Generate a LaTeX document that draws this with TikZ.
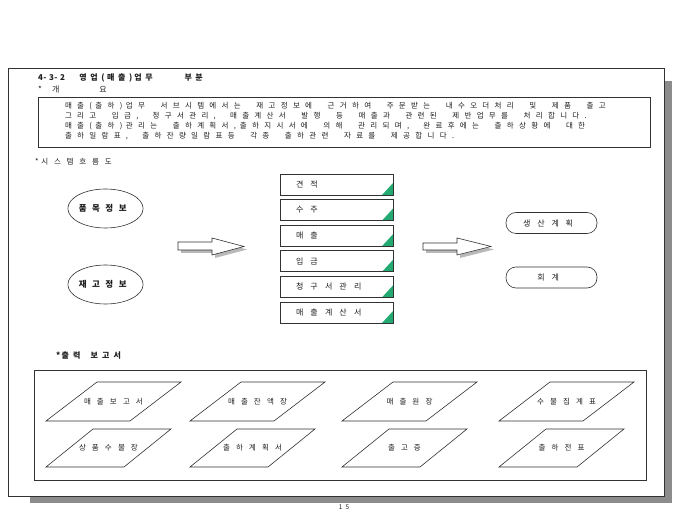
\documentclass[tikz,border=0pt]{standalone}
\usepackage{fontspec}
\setmainfont{Noto Sans CJK KR}
\usetikzlibrary{shapes.geometric}
\definecolor{shadowgray}{RGB}{140,140,140}
\definecolor{arrowshadow}{RGB}{185,185,185}
\definecolor{tri}{RGB}{35,170,115}
\definecolor{linec}{RGB}{50,50,50}
\definecolor{txt}{RGB}{30,30,30}
% monospaced-grid text: #1 pitch of a Hangul letter, #2 width of a word gap '|', #3 text
\makeatletter
\newlength\gtchw \newlength\gtspw
\newcommand\gridtext[3]{\gtchw=#1\relax\gtspw=#2\relax\@tfor\gt@c:=#3\do{\gt@put}}
\def\gt@bar{|}
\newcommand\gt@put{%
  \ifx\gt@c\gt@bar\hspace*{\gtspw}%
  \else
    \ifnum\expandafter`\gt@c>255
      \makebox[\gtchw][l]{\gt@c}%
    \else
      \makebox[0.5\gtchw][l]{\gt@c}%
    \fi
  \fi}
\makeatother
\tikzset{
  every node/.style={inner sep=0pt, outer sep=0pt, text=txt},
  heading/.style={anchor=west, font=\bfseries\fontsize{8}{10}\selectfont},
  plainhead/.style={anchor=west, font=\fontsize{7.5}{10}\selectfont},
  ovtext/.style={anchor=west, align=left, font=\fontsize{7.5}{10}\selectfont},
  stepbox/.style={draw=linec, line width=0.6pt, anchor=north west, minimum height=21pt,
     text width=81pt, inner xsep=16pt, align=left, font=\fontsize{8}{10}\selectfont,
     path picture={\fill[tri] (path picture bounding box.south east) -- ++(-11pt,0pt) -- ++(11pt,12pt) -- cycle;}},
  source/.style={ellipse, draw=linec, line width=0.6pt, minimum width=75pt, minimum height=39pt,
     font=\bfseries\fontsize{8.5}{10}\selectfont},
  target/.style={draw=linec, line width=0.6pt, rounded corners=10pt, minimum width=91pt, minimum height=21pt,
     font=\fontsize{8}{10}\selectfont},
  pglabel/.style={font=\fontsize{7.5}{10}\selectfont},
  pgline/.style={draw=linec, line width=0.6pt},
  blockarrow/.style={draw=linec, line width=0.6pt, fill=white},
  frame/.style={draw=linec, line width=0.6pt},
}
\newcommand\pgram[7]{%
  \draw[pgline] (#2,#3) -- ++(#6,0) -- ++(#5,#4-#3) -- ++(-#6,0) -- cycle;
  \node[pglabel] (#1) at ({#2+(#5+#6)/2+3},{(#3+#4)/2}) {\gridtext{13pt}{6pt}{#7}};
}
\newcommand\steplabel[1]{\gridtext{14.5pt}{6pt}{#1}}
\begin{document}
\begin{tikzpicture}[x=1pt,y=-1pt]
\useasboundingbox (0,0) rectangle (680,510);
% page frame with shadow
\fill[shadowgray] (664,81) rectangle (672,503);
\fill[shadowgray] (30,496) rectangle (672,503);
\fill[white] (8,68) rectangle (664,496);
\draw[frame] (8,68) rectangle (664,496);
% heading
\node[heading] (title) at (38,78) {\gridtext{11pt}{14pt}{4-3-2|영업(매출)업무||부분}};
\node[anchor=west, font=\fontsize{8}{10}\selectfont] (gaeyo) at (38,90) {\makebox[14pt][l]{*}개\hspace{40pt}요};
% overview box
\node[draw=linec, line width=0.8pt, anchor=north west, minimum width=612pt, minimum height=50pt] (ov) at (38,97) {};
\node[ovtext] (ovt) at (65,121) {%
\gridtext{12.2pt}{10.3pt}{매출(출하)업무|서브시템에서는|재고정보에|근거하여|주문받는|내수오더처리|및|제품|출고}\\
\gridtext{12.2pt}{10.3pt}{그리고|입금,|청구서관리,|매출계산서|발행|등|매출과|관련된|제반업무를|처리합니다.}\\
\gridtext{12.2pt}{10.3pt}{매출(출하)관리는|출하계획서,출하지시서에|의해|관리되며,|완료후에는|출하상황에|대한}\\
\gridtext{12.2pt}{10.3pt}{출하일람표,|출하잔량일람표등|각종|출하관련|자료를|제공합니다.}};
% system flow
\node[plainhead] (flow) at (35,162) {\gridtext{12.7pt}{6pt}{*시스템흐름도}};
\node[source] (pm) at (105.5,208.5) {\gridtext{13.3pt}{6pt}{품목정보}};
\node[source] (jg) at (105.5,284.5) {\gridtext{13.3pt}{6pt}{재고정보}};
% arrow 1
\fill[arrowshadow] (181,245) -- (215,245) -- (215,241) -- (247,249.5) -- (215,258) -- (215,253) -- (181,253) -- cycle;
\draw[blockarrow] (178,242) -- (212,242) -- (212,238) -- (244,246.5) -- (212,255) -- (212,250) -- (178,250) -- cycle;
% steps
\node[stepbox] (s1) at (280,174) {\steplabel{견적}};
\node[stepbox] (s2) at (280,199.6) {\steplabel{수주}};
\node[stepbox] (s3) at (280,225.2) {\steplabel{매출}};
\node[stepbox] (s4) at (280,250.8) {\steplabel{입금}};
\node[stepbox] (s5) at (280,276.4) {\steplabel{청구서관리}};
\node[stepbox] (s6) at (280,302) {\steplabel{매출계산서}};
% arrow 2
\fill[arrowshadow] (426,246) -- (460,246) -- (460,241) -- (494,249.5) -- (460,258) -- (460,253) -- (426,253) -- cycle;
\draw[blockarrow] (423,243) -- (457,243) -- (457,238) -- (491,246.5) -- (457,255) -- (457,250) -- (423,250) -- cycle;
% targets
\node[target] (sg) at (551.5,223) {\gridtext{14.2pt}{6pt}{생산계획}};
\node[target] (hg) at (551.5,277.5) {\gridtext{14.2pt}{6pt}{회계}};
% output reports
\node[anchor=west, font=\bfseries\fontsize{8}{10}\selectfont] (outhead) at (56,356) {\gridtext{11.5pt}{6pt}{*출력|보고서}};
\node[draw=linec, line width=0.6pt, anchor=north west, minimum width=612pt, minimum height=110pt] (out) at (34,370) {};
\pgram{r1}{46}{421}{382}{51}{84}{매출보고서}
\pgram{r2}{190}{421}{382}{51}{84}{매출잔액장}
\pgram{r3}{342}{421}{382}{51}{84}{매출원장}
\pgram{r4}{499}{421}{382}{51}{84}{수불집계표}
\pgram{r5}{46}{467}{429}{47}{78}{상품수불장}
\pgram{r6}{190}{467}{429}{47}{78}{출하계획서}
\pgram{r7}{342}{467}{429}{47}{78}{출고증}
\pgram{r8}{499}{467}{429}{47}{78}{출하전표}
% page number
\node[font=\fontsize{6.5}{8}\selectfont] (pg) at (344,507) {1\hspace{3pt}5};
\end{tikzpicture}
\end{document}
